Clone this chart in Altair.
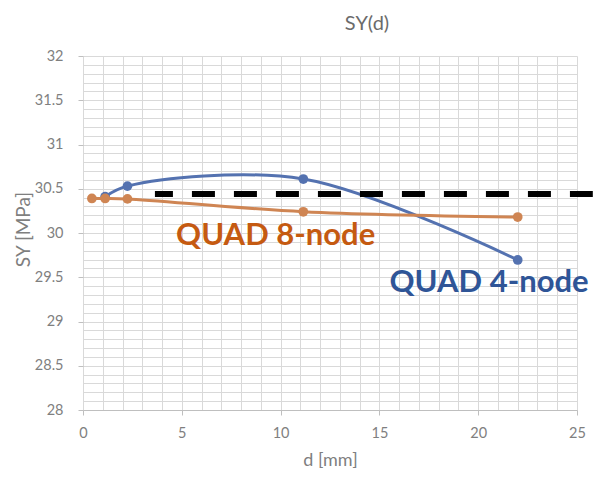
import altair as alt
import pandas as pd

# --- data ---
quad4_d = [1.12, 2.25, 11.15, 22.0]
quad4_sy = [30.41, 30.53, 30.61, 29.695]
quad8_d = [0.45, 1.12, 2.25, 11.15, 22.0]
quad8_sy = [30.39, 30.39, 30.385, 30.24, 30.18]
ref_d = [3.64, 25.8]
ref_sy = [30.44]
label_text = ["QUAD 8-node", "QUAD 4-node"]
label_d = [9.75, 20.55]
label_sy = [29.97, 29.435]
label_color = ["#C55A11", "#2F5597"]
x_ticks = list(range(0, 26))
y_ticks = [round(28 + 0.1 * i, 1) for i in range(41)]

BLUE = "#5472B0"
ORANGE = "#CF8553"
GRID = "#d9d9d9"
TXT = "#7f7f7f"
FONT = "Lato"

q4 = pd.DataFrame({"d": quad4_d, "sy": quad4_sy})
q8 = pd.DataFrame({"d": quad8_d, "sy": quad8_sy})
ref = pd.DataFrame({"d": [ref_d[0]], "d2": [ref_d[1]], "sy": ref_sy})
labels = pd.DataFrame({"d": label_d, "sy": label_sy, "t": label_text, "c": label_color})

x_axis = alt.Axis(
    values=x_ticks,
    labelExpr="datum.value % 5 == 0 ? format(datum.value, '~g') : ''",
    tickOpacity={"condition": {"test": "datum.value % 5 == 0", "value": 1}, "value": 0},
    grid=True, gridColor=GRID, gridWidth=1,
    domainColor="#bfbfbf", tickColor="#bfbfbf", tickSize=5,
    labelPadding=11, labelFont=FONT, labelFontSize=14.5, labelColor=TXT,
    labelOverlap=False, labelBound=False, labelFlush=False,
    title="d [mm]", titleFont=FONT, titleFontSize=18, titleColor=TXT,
    titleFontWeight="normal", titleX=247, titleY=50, titleBaseline="middle",
)
major_y = "abs(datum.value*2 - round(datum.value*2)) < 0.001"
y_axis = alt.Axis(
    values=y_ticks,
    labelExpr=f"{major_y} ? format(datum.value, '~g') : ''",
    tickOpacity={"condition": {"test": major_y, "value": 1}, "value": 0},
    grid=True, gridColor=GRID, gridWidth=1,
    domain=False, tickColor="#bfbfbf", tickSize=5,
    labelPadding=15, labelFont=FONT, labelFontSize=14.5, labelColor=TXT,
    labelOverlap=False, labelBound=False,
    title="SY [MPa]", titleFont=FONT, titleFontSize=19, titleColor=TXT,
    titleFontWeight="normal", titleX=-60, titleY=173, titleBaseline="middle",
    titleAngle=270,
)

x_enc = alt.X("d:Q", scale=alt.Scale(domain=[0, 25], nice=False, zero=False), axis=x_axis)
y_enc = alt.Y("sy:Q", scale=alt.Scale(domain=[28, 32], nice=False, zero=False), axis=y_axis)

def series(df, color):
    line = alt.Chart(df).mark_line(interpolate="catmull-rom", color=color, strokeWidth=3).encode(x=x_enc, y=y_enc)
    pts = alt.Chart(df).mark_circle(color=color, size=95, opacity=1).encode(x=x_enc, y=y_enc)
    return line + pts

blue = series(q4, BLUE)
orange = series(q8, ORANGE)

dash = alt.Chart(ref).mark_rule(
    color="black", strokeWidth=6, strokeDash=[23, 19], strokeDashOffset=5, clip=False
).encode(x=x_enc, x2="d2:Q", y=y_enc)

text = alt.Chart(labels).mark_text(
    font=FONT, fontWeight="bold", fontSize=31, clip=False, align="center", baseline="middle"
).encode(x=x_enc, y=y_enc, text="t:N", color=alt.Color("c:N", scale=None))

chart = alt.layer(blue, orange, dash, text).properties(
    width=494, height=354,
    title=alt.TitleParams("SY(d)", font=FONT, fontSize=20, fontWeight="normal",
                          color="#6b6b6b", dx=37, offset=14),
    autosize=alt.AutoSizeParams(type="none"),
    padding={"left": 75, "top": 48, "right": 17, "bottom": 60},
).configure_view(stroke=None)

chart.save("out.html", embed_options={"renderer": "svg", "actions": False})
